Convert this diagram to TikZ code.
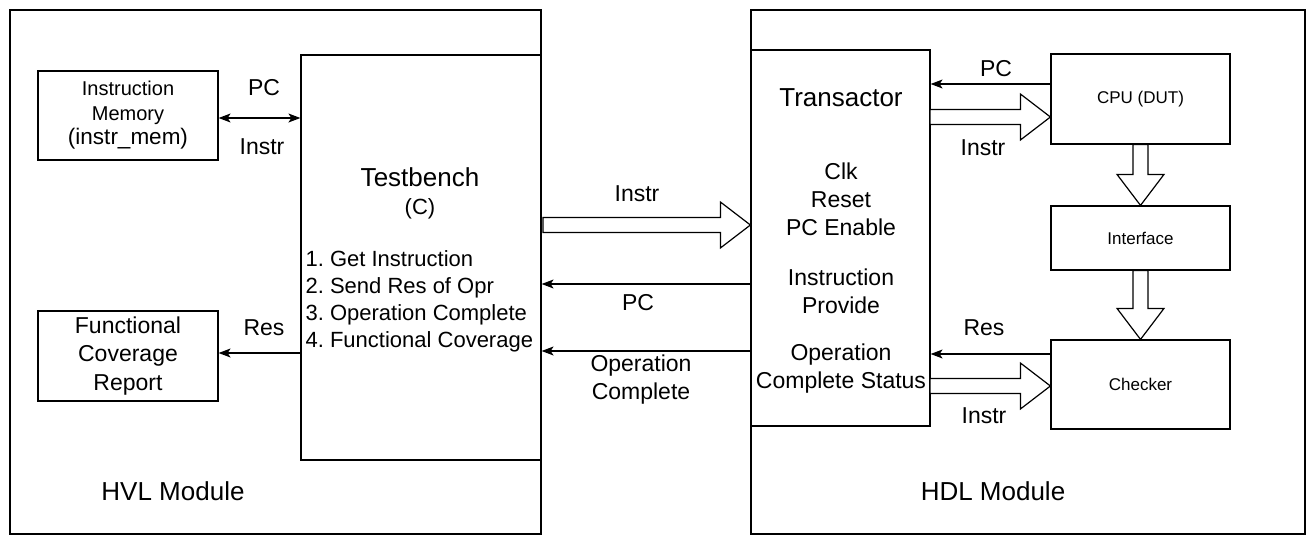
\documentclass[tikz,border=0pt]{standalone}
\usepackage{fontspec}
\setmainfont{Liberation Sans}
\usetikzlibrary{calc,arrows.meta}
\frenchspacing
\tikzset{
  box/.style={draw, rectangle, inner sep=0pt},
  lab/.style={inner sep=0pt, align=center, font=\fontsize{23}{28}\selectfont},
  arr/.style={-{Stealth[length=12pt,width=9pt,inset=3pt]}},
  dblarr/.style={{Stealth[length=12pt,width=9pt,inset=3pt]}-{Stealth[length=12pt,width=9pt,inset=3pt]}},
  blockarrow/.style={draw, fill=white, line join=miter},
}
\newcommand{\hblockarrow}[2]{\draw[blockarrow] let \p1=(#1),\p2=(#2) in
  (\x1,{\y1+7.5pt}) -- ({\x2-30pt},{\y1+7.5pt}) -- ({\x2-30pt},{\y1+23pt}) -- (\x2,\y1)
  -- ({\x2-30pt},{\y1-23pt}) -- ({\x2-30pt},{\y1-7.5pt}) -- (\x1,{\y1-7.5pt}) -- cycle;}
\newcommand{\vblockarrow}[2]{\draw[blockarrow] let \p1=(#1),\p2=(#2) in
  ({\x1-7.5pt},\y1) -- ({\x1-7.5pt},{\y2+31pt}) -- ({\x1-23.5pt},{\y2+31pt}) -- (\x1,\y2)
  -- ({\x1+23.5pt},{\y2+31pt}) -- ({\x1+7.5pt},{\y2+31pt}) -- ({\x1+7.5pt},\y1) -- cycle;}
\begin{document}
\begin{tikzpicture}[x=1pt,y=-1pt,line width=1.2pt]
\useasboundingbox (0,0) rectangle (1314,546);
% outer modules
\node[box, minimum width=531pt, minimum height=524pt] (hvl) at (275.5,272) {};
\node[box, minimum width=554pt, minimum height=524pt] (hdl) at (1028,272) {};
% HVL side
\node[box, minimum width=180pt, minimum height=89pt, align=center,
      font=\fontsize{20}{24.5}\selectfont] (imem) at (128,115.5)
      {Instruction\\Memory\\{\fontsize{22.5}{26}\selectfont (instr\_mem)}};
\node[box, minimum width=180pt, minimum height=90pt, align=center,
      font=\fontsize{23}{28.5}\selectfont] (fcr) at (128,356)
      {Functional\\Coverage\\Report};
\node[box, minimum width=240pt, minimum height=405pt] (tb) at (421,257.5) {};
\node[lab, font=\fontsize{26}{30}\selectfont] (tbt) at (420,177) {Testbench};
\node[lab, font=\fontsize{22}{26}\selectfont] (tbc) at (420,209) {(C)};
\node[lab, align=left, anchor=west, font=\fontsize{22}{27}\selectfont] (tbl) at (305,301.5)
  {1. Get Instruction\\2. Send Res of Opr\\3. Operation Complete\\4. Functional Coverage};
\node[lab, font=\fontsize{26}{30}\selectfont] (hvlt) at (173,491) {HVL Module};
% HDL side
\node[box, minimum width=179pt, minimum height=376pt] (tr) at (840.5,238) {};
\node[lab, font=\fontsize{26}{30}\selectfont] (trt) at (841,98) {Transactor};
\node[lab] (trc) at (841,199) {Clk\\Reset\\PC Enable};
\node[lab] (tri) at (841,291) {Instruction\\Provide};
\node[lab] (tro) at (841,369) {Operation\\Complete Status};
\node[box, minimum width=179pt, minimum height=90pt, font=\fontsize{17}{20}\selectfont] (cpu) at (1140.5,99) {CPU (DUT)};
\node[box, minimum width=179pt, minimum height=64pt, font=\fontsize{17}{20}\selectfont] (iface) at (1140.5,238) {Interface};
\node[box, minimum width=179pt, minimum height=89pt, font=\fontsize{17}{20}\selectfont] (chk) at (1140.5,384.5) {Checker};
\node[lab, font=\fontsize{26}{30}\selectfont] (hdlt) at (993,491) {HDL Module};
% HVL connectors
\draw[dblarr] ([yshift=-2.5pt]imem.east) -- ([yshift=-2.5pt]imem.east -| tb.west);
\node[lab] (lpc1) at (264,88) {PC};
\node[lab] (lin1) at (262,147) {Instr};
\draw[arr] ([yshift=3pt]fcr.east -| tb.west) -- ([yshift=3pt]fcr.east);
\node[lab] (lres1) at (264,328) {Res};
% middle connectors
\coordinate (ins0) at (543,225);
\hblockarrow{ins0}{ins0 -| tr.west}
\node[lab] (lin2) at (637,194) {Instr};
\coordinate (pc0) at (751,284);
\draw[arr] (pc0) -- (pc0 -| tb.east);
\node[lab] (lpc2) at (638,303) {PC};
\coordinate (op0) at (751,351);
\draw[arr] (op0) -- (op0 -| tb.east);
\node[lab] (lop) at (641,380) {Operation\\Complete};
% HDL connectors
\coordinate (pc1) at (1051,84);
\draw[arr] (pc1) -- (pc1 -| tr.east);
\node[lab] (lpc3) at (996,69) {PC};
\coordinate (in3) at (930,117);
\hblockarrow{in3}{in3 -| cpu.west}
\node[lab] (lin3) at (983,148) {Instr};
\vblockarrow{cpu.south}{iface.north}
\vblockarrow{iface.south}{chk.north}
\coordinate (res2) at (1051,354);
\draw[arr] (res2) -- (res2 -| tr.east);
\node[lab] (lres2) at (984,328) {Res};
\coordinate (in4) at (930,386);
\hblockarrow{in4}{in4 -| chk.west}
\node[lab] (lin4) at (984,416) {Instr};
\end{tikzpicture}
\end{document}
